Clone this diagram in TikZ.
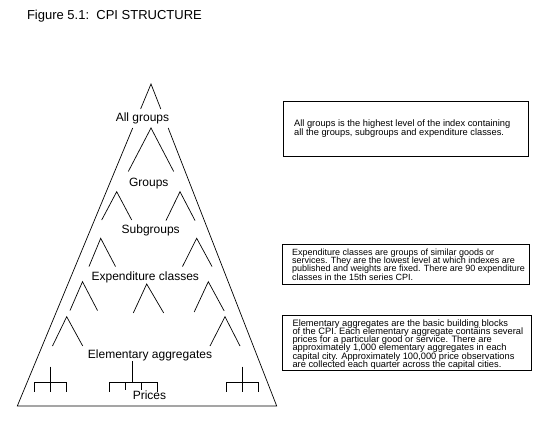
\documentclass[tikz,border=0pt]{standalone}
\usepackage{fontspec}
\setmainfont{Liberation Sans}
\newcommand\mytightlines{\setlength{\lineskiplimit}{-5pt}\setlength{\lineskip}{0pt}}
\begin{document}
\begin{tikzpicture}[x=1pt,y=-1pt,line width=0.7pt,
  lbl/.style={font=\fontsize{12}{14}\selectfont, inner sep=0pt, anchor=base},
  notebox/.style={draw, line width=0.8pt, anchor=north west, inner sep=0pt},
  notetext/.style={font={\fontsize{9.3}{8.3}\selectfont\mytightlines}, align=left, anchor=west, inner sep=0pt},
  tree/.style={line width=0.7pt}]
\useasboundingbox (0,0) rectangle (551,425);
% title
\node[anchor=base west, inner sep=0pt, font=\fontsize{13}{15}\selectfont] (title) at (26.7,19.3) {Figure 5.1:\ \ CPI STRUCTURE};
% outer triangle (interrupted by "All groups")
\coordinate (apex) at (151,84);
\coordinate (bl) at (17.3,406);
\coordinate (br) at (276.7,406);
\draw (140.6,109) -- (apex) -- (160.8,109);
\draw (132.7,128) -- (bl) -- (br) -- (168.2,128);
% labels
\node[lbl] (allgroups) at (142.5,121.7) {All groups};
\node[lbl] (groups) at (148.8,186.7) {Groups};
\node[lbl] (subgroups) at (150.7,233.3) {Subgroups};
\node[lbl] (expclasses) at (145.3,280.7) {Expenditure classes};
\node[lbl] (elemagg) at (150,358.3) {Elementary aggregates};
\node[lbl] (prices) at (149.5,399.3) {Prices};
% small branch triangles
\draw (128.3,171.5) -- (151,128) -- (173.7,171.5);
\draw (101.7,220) -- (116.7,191.7) -- (131.7,220);
\draw (166,220.5) -- (180,191.7) -- (195,220.5);
\draw (89,266.5) -- (100.7,238.3) -- (115.5,266.5);
\draw (182.5,266.5) -- (196.7,238.3) -- (212,266.5);
\draw (70,310.5) -- (82.5,281.7) -- (97.5,310.5);
\draw (133.3,313) -- (146.7,284) -- (163.7,313);
\draw (194.2,312) -- (208.3,281.7) -- (224.2,311);
\draw (52.5,346) -- (66.7,316.7) -- (82.7,346);
\draw (210,346) -- (225,316.7) -- (240,346);
% price trees
\draw[tree] (50.7,366.7) -- (50.7,382.7);
\draw[tree] (34.3,391.7) -- (34.3,382.7) -- (66.5,382.7) -- (66.5,391.7);
\draw[tree] (50.7,382.7) -- (50.7,391.7);
\draw[tree] (132.7,361) -- (132.7,382.7);
\draw[tree] (109.3,391.7) -- (109.3,382.7) -- (157.3,382.7) -- (157.3,391.7);
\draw[tree] (125,382.7) -- (125,389.5);
\draw[tree] (141.7,382.7) -- (141.7,389.5);
\draw[tree] (242.3,366.7) -- (242.3,382.7);
\draw[tree] (226.7,391.7) -- (226.7,382.7) -- (258.3,382.7) -- (258.3,391.7);
\draw[tree] (242.3,382.7) -- (242.3,391.7);
% note boxes
\node[notebox, minimum width=244.4pt, minimum height=54.5pt] (box1) at (283.3,101) {};
\node[notetext] (text1) at ([xshift=10.5pt]box1.west) {All groups is the highest level of the index containing\\all the groups, subgroups and expenditure classes.};
\node[notebox, minimum width=247.6pt, minimum height=40.3pt] (box2) at (281.7,244) {};
\node[notetext, font={\fontsize{9}{8.3}\selectfont\mytightlines}] (text2) at ([xshift=10pt]box2.west) {Expenditure classes are groups of similar goods or\\services. They are the lowest level at which indexes are\\published and weights are fixed. There are 90 expenditure\\classes in the 15th series CPI.};
\node[notebox, minimum width=249pt, minimum height=55pt] (box3) at (281.7,315) {};
\node[notetext] (text3) at ([xshift=10.5pt,yshift=-1.5pt]box3.west) {Elementary aggregates are the basic building blocks\\of the CPI. Each elementary aggregate contains several\\prices for a particular good or service. There are\\approximately 1,000 elementary aggregates in each\\capital city. Approximately 100,000 price observations\\are collected each quarter across the capital cities.};
\end{tikzpicture}
\end{document}
